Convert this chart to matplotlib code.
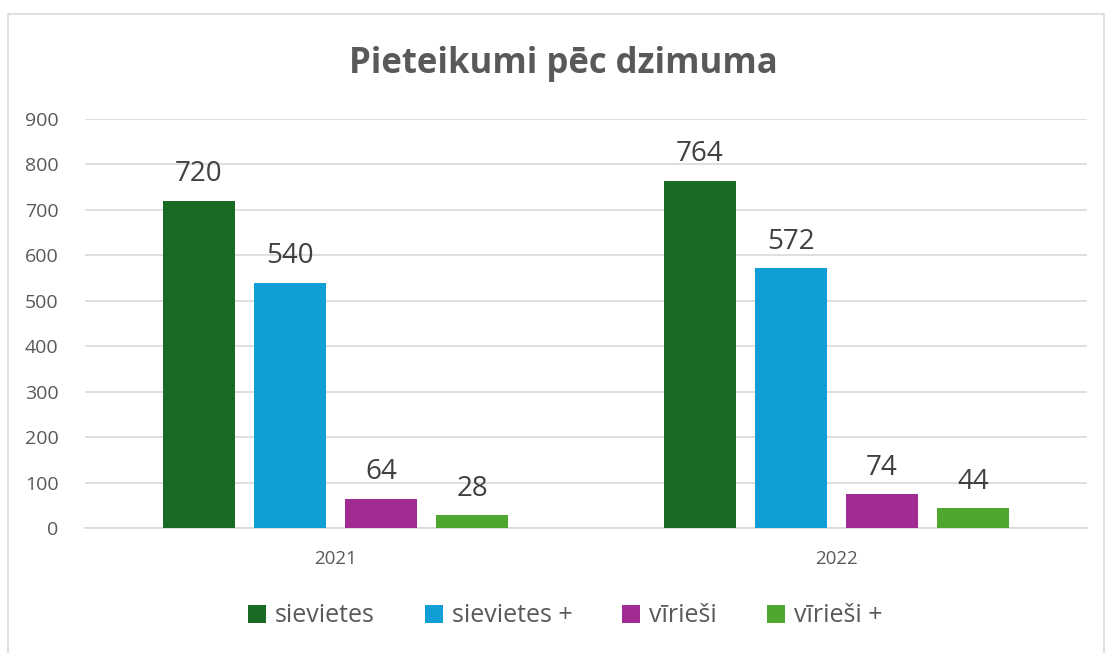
import matplotlib
matplotlib.use("Agg")
import matplotlib.pyplot as plt
from matplotlib.patches import Rectangle
import numpy as np

plt.rcParams['font.family'] = ['Open Sans', 'DejaVu Sans']

categories = ["2021", "2022"]
series_names = ["sievietes", "sievietes +", "vīrieši", "vīrieši +"]
sievietes = [720, 764]
sievietes_plus = [540, 572]
viriesi = [64, 74]
viriesi_plus = [28, 44]
yticks = [0, 100, 200, 300, 400, 500, 600, 700, 800, 900]

series = [sievietes, sievietes_plus, viriesi, viriesi_plus]
colors = ["#196B24", "#0F9ED5", "#A02B93", "#4EA72E"]

W, H = 1106, 653
fig = plt.figure(figsize=(W / 100, H / 100), dpi=100)
fig.patch.set_facecolor("white")

# chart border
fig.patches.append(Rectangle((8 / W, -0.01), (1104 - 8) / W, 1 - 14 / H + 0.01,
                             transform=fig.transFigure, fill=False,
                             edgecolor="#D9D9D9", lw=1.2))

ax = fig.add_axes([85 / W, 1 - 528 / H, (1087 - 85) / W, (528 - 119) / H])
x = np.arange(len(categories))
bw = 72 / 501
step = 91 / 501
for i, (vals, c, name) in enumerate(zip(series, colors, series_names)):
    pos = x + (i - 1.5) * step
    bars = ax.bar(pos, vals, width=bw, color=c, label=name, zorder=3)
    ax.bar_label(bars, labels=[str(v) for v in vals], padding=9,
                 fontsize=20, color="#404040")

ax.set_xlim(-0.5, 1.5)
ax.set_ylim(0, 900)
ax.set_yticks(yticks)
ax.set_xticks(x)
ax.set_xticklabels(categories)
ax.tick_params(axis="y", length=0, pad=19, labelsize=14, labelcolor="#595959")
ax.tick_params(axis="x", length=0, pad=16, labelsize=13.5, labelcolor="#595959")
ax.grid(axis="y", color="#D9D9D9", lw=1.2, zorder=0)
for s in ["top", "right", "left"]:
    ax.spines[s].set_visible(False)
ax.spines["bottom"].set_color("#D9D9D9")
ax.spines["bottom"].set_linewidth(1.2)
ax.set_facecolor("none")

fig.text(0.509, 1 - 64 / H, "Pieteikumi pēc dzimuma", ha="center", va="center",
         fontsize=25, fontweight="bold", color="#595959")

leg = fig.legend(loc="center", bbox_to_anchor=(0.511, 1 - 616 / H), ncol=4,
                 frameon=False, fontsize=18, handlelength=0.72, handleheight=0.72,
                 handletextpad=0.35, columnspacing=2.0, labelcolor="#595959")

fig.savefig("out.png", dpi=100, facecolor="white")
